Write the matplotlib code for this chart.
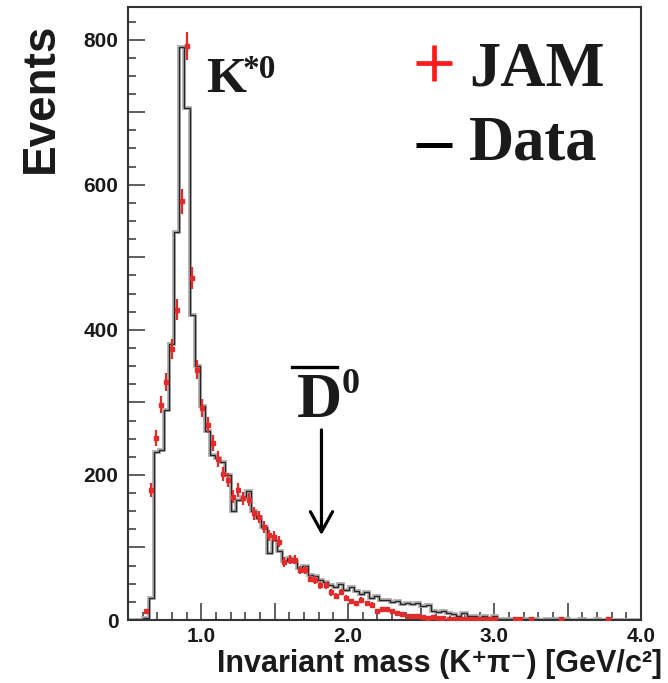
import numpy as np
import matplotlib

matplotlib.use("Agg")
import matplotlib.pyplot as plt
from matplotlib.lines import Line2D
from matplotlib.ticker import MultipleLocator, FuncFormatter

W, H = 668, 683
RED = "#e32b2b"
INK = "#1a1a1a"
SERIF = ["Liberation Serif", "DejaVu Serif"]
NARROW = ["Liberation Sans Narrow", "Liberation Sans", "DejaVu Sans"]

# 100 bins of 35 MeV/c^2 from 0.5 to 4.0 GeV/c^2
edges = np.linspace(0.5, 4.0, 101)

data_counts = [
    0, 0, 0, 3, 30, 232, 235, 290, 380, 535,
    790, 706, 420, 350, 295, 260, 228, 224, 218, 200,
    150, 165, 170, 178, 150, 140, 128, 92, 110, 95,
    82, 85, 80, 72, 75, 62, 60, 55, 52, 48,
    46, 50, 42, 45, 40, 36, 38, 30, 33, 28,
    27, 25, 26, 22, 24, 22, 23, 19, 20, 12,
    11, 12, 10, 8, 6, 9, 6, 5, 4, 6,
    3, 5, 2, 1, 2, 1, 2, 1, 0, 1,
    0, 1, 2, 1, 0, 1, 0, 0, 1, 0,
    0, 1, 0, 0, 0, 0, 0, 0, 0, 0,
]

jam_counts = [
    0, 0, 0, 12, 179, 251, 297, 328, 374, 428,
    577, 791, 472, 345, 292, 269, 244, 222, 201, 193,
    170, 179, 168, 166, 147, 142, 128, 117, 115, 108,
    80, 83, 83, 69, 69, 57, 55, 48, 48, 38,
    33, 39, 30, 26, 23, 28, 23, 21, 12, 15,
    15, 13, 9, 8, 6, 5, 5, 4, 3, 4,
    3, 3, 2, 2, 2, 1, 1, 2, 1, 1,
    2, 1, 0, 0, 0, 1, 2, 0, 1, 0,
    0, 0, 0, 0, 2, 0, 0, 0, 0, 0,
    0, 0, 0, 2, 0, 0, 0, 0, 0, 0,
]

plt.rcParams.update({
    "font.family": ["Liberation Sans", "DejaVu Sans"],
    "font.weight": "bold",
    "text.color": INK,
})

fig = plt.figure(figsize=(W / 100, H / 100), dpi=100)
ax = fig.add_axes([128 / W, (H - 620) / H, (641 - 128) / W, (620 - 7) / H])

data = np.array(data_counts, dtype=float)
jam = np.array(jam_counts, dtype=float)
centers = 0.5 * (edges[:-1] + edges[1:])

# data histogram: grey halo under a dark step line
ax.stairs(data, edges, color="0.7", lw=2.8, baseline=None, zorder=2)
ax.stairs(data, edges, color="0.15", lw=1.0, baseline=None, zorder=2)

# JAM points with error bars
m = jam > 0
ax.errorbar(centers[m], jam[m], yerr=0.7 * np.sqrt(jam[m]), xerr=0.009,
            fmt="s", ms=3.2, color=RED, ecolor=RED, elinewidth=1.6,
            capsize=0, zorder=3)

ax.set_xlim(0.5, 4.0)
ax.set_ylim(0, 845)

ax.xaxis.set_major_locator(MultipleLocator(0.5))
ax.xaxis.set_minor_locator(MultipleLocator(0.1))
ax.yaxis.set_major_locator(MultipleLocator(100))
ax.yaxis.set_minor_locator(MultipleLocator(25))
ax.xaxis.set_major_formatter(FuncFormatter(
    lambda v, p: f"{v:.1f}" if abs(v - round(v)) < 1e-6 and v >= 1 else ""))
ax.yaxis.set_major_formatter(FuncFormatter(
    lambda v, p: f"{int(round(v))}" if int(round(v)) % 200 == 0 else ""))

ax.tick_params(which="both", direction="in", color="#333333", width=1.1,
               labelsize=15, labelcolor=INK)
ax.tick_params(which="major", length=12)
ax.tick_params(which="minor", length=5.5)
ax.tick_params(axis="y", pad=7)
ax.tick_params(axis="x", pad=5)
for s in ax.spines.values():
    s.set_linewidth(1.5)
    s.set_color("#333333")

# D0-bar marker arrow
ax.annotate("", xy=(1.82, 117), xytext=(1.82, 262),
            arrowprops=dict(arrowstyle="->,head_length=1.45,head_width=0.8",
                            lw=2.3, color="k", mutation_scale=10,
                            shrinkA=0, shrinkB=0))

# axis labels
fig.text(41 / W, 1 - 98 / H, "Events", rotation=90, ha="center", va="center",
         fontsize=33, fontweight="bold")
fig.text(662 / W, 1 - 664 / H, "Invariant mass (K\u207a\u03c0\u207b) [GeV/c\u00b2]",
         ha="right", va="center", fontsize=22, fontweight="bold", family=NARROW)

# peak labels
fig.text(206 / W, 1 - 92 / H, "K", ha="left", va="baseline", fontsize=37,
         family=SERIF, fontweight="bold")
fig.text(243 / W, 1 - 78 / H, "*0", ha="left", va="baseline", fontsize=24,
         family=SERIF, fontweight="bold")
fig.text(297 / W, 1 - 417 / H, "D", ha="left", va="baseline", fontsize=45,
         family=SERIF, fontweight="bold")
fig.text(342 / W, 1 - 393 / H, "0", ha="left", va="baseline", fontsize=26,
         family=SERIF, fontweight="bold")
fig.add_artist(Line2D([292 / W, 337 / W], [1 - 367 / H] * 2, lw=2.4, color="k"))

# hand-made legend
fig.add_artist(Line2D([434 / W], [1 - 63 / H], marker="+", ms=26, mew=3.4,
                      color="#ff1a1a", ls="none"))
fig.add_artist(Line2D([434 / W], [1 - 145 / H], marker="_", ms=26, mew=3.6,
                      color="k", ls="none"))
fig.text(469 / W, 1 - 86 / H, "JAM", ha="left", va="baseline", fontsize=45,
         family=SERIF, fontweight="bold")
fig.text(469 / W, 1 - 160 / H, "Data", ha="left", va="baseline", fontsize=45,
         family=SERIF, fontweight="bold")

fig.savefig("out.png", dpi=100)
